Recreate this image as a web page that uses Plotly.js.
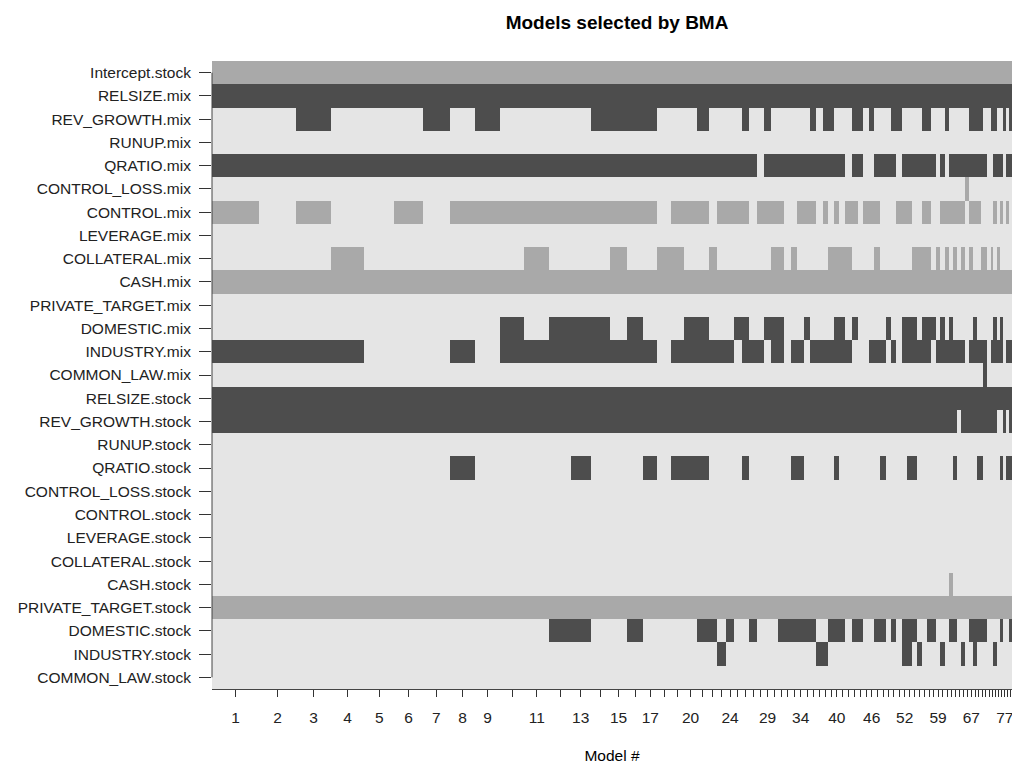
<!DOCTYPE html>
<html><head><meta charset="utf-8">
<script src="https://cdn.plot.ly/plotly-3.0.1.min.js"></script>
<style>html,body{margin:0;padding:0;background:#fff}#chart{width:1012px;height:764px}</style>
</head><body><div id="chart"></div>
<script>
// ---- data ----
const variables = ["Intercept.stock","RELSIZE.mix","REV_GROWTH.mix","RUNUP.mix","QRATIO.mix","CONTROL_LOSS.mix","CONTROL.mix","LEVERAGE.mix","COLLATERAL.mix","CASH.mix","PRIVATE_TARGET.mix","DOMESTIC.mix","INDUSTRY.mix","COMMON_LAW.mix","RELSIZE.stock","REV_GROWTH.stock","RUNUP.stock","QRATIO.stock","CONTROL_LOSS.stock","CONTROL.stock","LEVERAGE.stock","COLLATERAL.stock","CASH.stock","PRIVATE_TARGET.stock","DOMESTIC.stock","INDUSTRY.stock","COMMON_LAW.stock"];
// sign of coefficient when included: 1 = positive (dark), -1 = negative (light)
const varSign = [-1,1,1,1,1,-1,-1,1,-1,-1,1,1,1,1,1,1,1,1,1,1,1,1,-1,-1,1,1,1];

// posterior model probabilities (widths of model columns), models 1..79 (plot is cut at the right)
const postProb = [0.0473,0.0367,0.0350,0.0333,0.0300,0.0284,0.0273,0.0250,0.0250,0.0243,
  0.0250,0.0214,0.0200,0.0193,0.0170,0.0163,0.0140,0.0140,0.0130,0.0124,
  0.0118,0.0082,0.0093,0.0080,0.0077,0.0073,0.0080,0.0070,0.0070,0.0073,
  0.0057,0.0073,0.0057,0.0073,0.0060,0.0057,0.0067,0.0056,0.0060,0.0050,
  0.0060,0.0064,0.0060,0.0056,0.0057,0.0053,0.0057,0.0060,0.0050,0.0050,
  0.0060,0.0053,0.0047,0.0047,0.0053,0.0050,0.0040,0.0050,0.0040,0.0050,
  0.0040,0.0040,0.0040,0.0043,0.0040,0.0040,0.0040,0.0034,0.0040,0.0026,
  0.0040,0.0034,0.0026,0.0034,0.0033,0.0033,0.0030,0.0030,0.0030];

const shownLabels = [1,2,3,4,5,6,7,8,9,11,13,15,17,20,24,29,34,40,46,52,59,67,77];

// models (1-based) in which each variable is included
const inc_Intercept_stock = "all";
const inc_RELSIZE_mix = "all";
const inc_REV_GROWTH_mix = [3,7,9,14,15,16,17,21,26,29,36,38,39,43,44,46,50,51,56,57,61,67,68,69,70,73,74,77,79];
const inc_RUNUP_mix = [];
const inc_QRATIO_mix = [1,2,3,4,5,6,7,8,9,10,11,12,13,14,15,16,17,18,19,20,21,22,23,24,25,26,27,29,30,31,32,33,34,35,36,37,38,39,40,41,43,44,47,48,49,50,52,53,54,55,56,57,58,60,62,63,64,65,66,67,68,69,70,71,74,75,76,78,79];
const inc_CONTROL_LOSS_mix = [66];
const inc_CONTROL_mix = [1,3,6,8,9,10,11,12,13,14,15,16,17,19,20,21,23,24,25,26,28,29,30,31,34,35,36,38,40,42,43,45,46,47,51,52,53,56,57,60,61,62,63,64,65,67,68,69,74,76,78];
const inc_LEVERAGE_mix = [];
const inc_COLLATERAL_mix = [4,11,15,18,19,22,30,31,33,39,40,41,42,47,54,55,56,57,59,61,63,65,67,70,71,73,75];
const inc_CASH_mix = "all";
const inc_PRIVATE_TARGET_mix = [];
const inc_DOMESTIC_mix = [10,12,13,14,16,20,21,25,26,29,30,31,35,40,41,43,49,52,53,54,56,57,58,60,62,68,74,76];
const inc_INDUSTRY_mix = [1,2,3,4,8,10,11,12,13,14,15,16,17,19,20,21,22,23,24,26,27,28,30,31,33,34,36,37,38,39,40,41,42,46,47,48,50,52,53,54,55,56,57,59,60,61,62,63,64,65,67,68,69,70,71,73,74,75,76,78,79];
const inc_COMMON_LAW_mix = [71];
const inc_RELSIZE_stock = "all";
const inc_REV_GROWTH_stock = [1,2,3,4,5,6,7,8,9,10,11,12,13,14,15,16,17,18,19,20,21,22,23,24,25,26,27,28,29,30,31,32,33,34,35,36,37,38,39,40,41,42,43,44,45,46,47,48,49,50,51,52,53,54,55,56,57,58,59,60,61,62,63,65,66,67,68,69,70,71,72,73,74,77,79];
const inc_RUNUP_stock = [];
const inc_QRATIO_stock = [8,13,17,19,20,21,26,33,34,40,48,53,54,63,69,70,76,78,79];
const inc_CONTROL_LOSS_stock = [];
const inc_CONTROL_stock = [];
const inc_LEVERAGE_stock = [];
const inc_COLLATERAL_stock = [];
const inc_CASH_stock = [62];
const inc_PRIVATE_TARGET_stock = "all";
const inc_DOMESTIC_stock = [12,13,16,21,22,24,27,31,32,33,34,35,36,39,40,41,43,44,47,48,50,52,53,54,57,58,62,63,67,68,69,70,71,76,79];
const inc_INDUSTRY_stock = [23,37,38,52,53,55,60,65,68,74];
const inc_COMMON_LAW_stock = [];

const inclusion = [inc_Intercept_stock,inc_RELSIZE_mix,inc_REV_GROWTH_mix,inc_RUNUP_mix,inc_QRATIO_mix,inc_CONTROL_LOSS_mix,inc_CONTROL_mix,inc_LEVERAGE_mix,inc_COLLATERAL_mix,inc_CASH_mix,inc_PRIVATE_TARGET_mix,inc_DOMESTIC_mix,inc_INDUSTRY_mix,inc_COMMON_LAW_mix,inc_RELSIZE_stock,inc_REV_GROWTH_stock,inc_RUNUP_stock,inc_QRATIO_stock,inc_CONTROL_LOSS_stock,inc_CONTROL_stock,inc_LEVERAGE_stock,inc_COLLATERAL_stock,inc_CASH_stock,inc_PRIVATE_TARGET_stock,inc_DOMESTIC_stock,inc_INDUSTRY_stock,inc_COMMON_LAW_stock];

// ---- build ----
const nModels = postProb.length;
const edges = [0];
postProb.forEach(p => edges.push(edges[edges.length-1] + p));
const centers = postProb.map((p,i) => (edges[i] + edges[i+1]) / 2);
const ticktext = centers.map((c,i) => shownLabels.includes(i+1) ? String(i+1) : "");

const z = inclusion.map((inc, r) => {
  const row = [];
  for (let m = 1; m <= nModels; m++) {
    const on = inc === "all" || inc.includes(m);
    row.push(on ? (varSign[r] > 0 ? 2 : 1) : 0);
  }
  return row;
});

const FONT = "Liberation Sans, Arial, Helvetica, sans-serif";
const trace = {
  type: "heatmap",
  x: edges,
  y: variables.map((v,i) => i),
  z: z,
  zmin: 0, zmax: 2,
  colorscale: [[0,"#e5e5e5"],[0.3333,"#e5e5e5"],[0.3333,"#a9a9a9"],[0.6667,"#a9a9a9"],[0.6667,"#4d4d4d"],[1,"#4d4d4d"]],
  showscale: false,
  hoverinfo: "skip"
};

const layout = {
  width: 1012, height: 764,
  margin: {l: 212, r: 0, t: 61, b: 75},
  paper_bgcolor: "#ffffff", plot_bgcolor: "#e5e5e5",
  font: {family: FONT, size: 15.5, color: "#000"},
  title: {text: "<b>Models selected by BMA</b>", font: {family: FONT, size: 19, color: "#000"},
          xref: "container", x: 0.6097, xanchor: "center", yref: "container", y: 0.971, yanchor: "middle"},
  xaxis: {
    range: [0, 0.8], tickmode: "array", tickvals: centers, ticktext: ticktext,
    ticks: "outside", ticklen: 7, tickwidth: 1, tickcolor: "#333",
    showline: true, linecolor: "#444", linewidth: 1, showgrid: false, zeroline: false,
    ticklabelstandoff: 7, ticklabeloverflow: "allow",
    tickfont: {family: FONT, size: 15.5, color: "#222"},
    title: {text: "Model #", font: {family: FONT, size: 15.5, color: "#000"}, standoff: 25}
  },
  yaxis: {
    range: [26.5, -0.5], tickmode: "array", tickvals: variables.map((v,i) => i), ticktext: variables,
    ticks: "outside", ticklen: 12, tickwidth: 1, tickcolor: "#333",
    showline: false, showgrid: false, zeroline: false,
    ticklabelstandoff: 5,
    tickfont: {family: FONT, size: 15.5, color: "#222"}
  },
  shapes: [
    {type: "line", xref: "paper", x0: 0, x1: 0, yref: "y", y0: 0, y1: 26, line: {color: "#444", width: 1}}
  ]
};

Plotly.newPlot("chart", [trace], layout, {displayModeBar: false, staticPlot: true});
</script>
</body></html>
